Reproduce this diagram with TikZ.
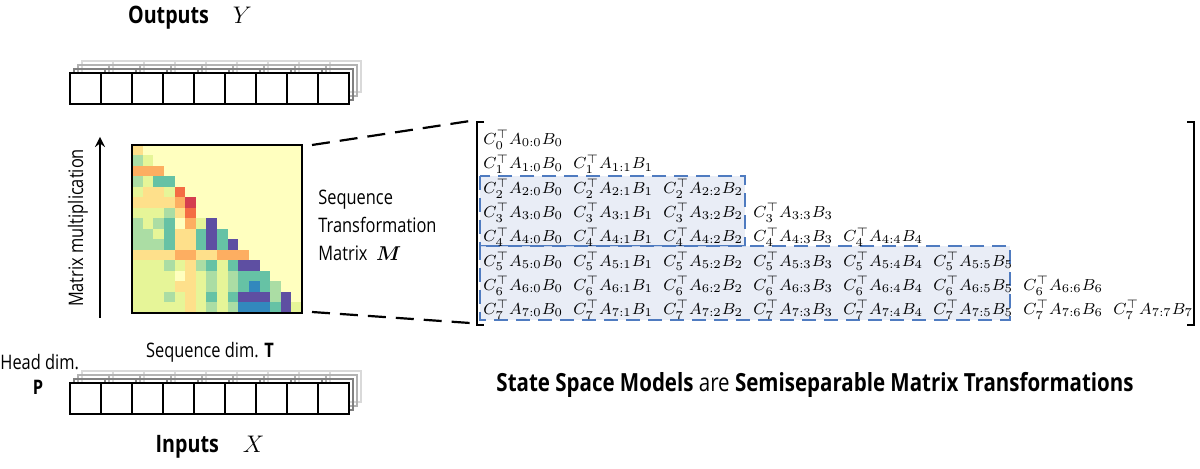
\documentclass[tikz,border=0pt]{standalone}
\usepackage{amsmath}
\usepackage{fontspec}
\setmainfont{Open Sans}[FakeStretch=0.82]
\definecolor{hm0}{HTML}{FFFFBF}
\definecolor{hm1}{HTML}{E6F598}
\definecolor{hm2}{HTML}{ABDDA4}
\definecolor{hm3}{HTML}{66C2A5}
\definecolor{hm4}{HTML}{3288BD}
\definecolor{hm5}{HTML}{5E4FA2}
\definecolor{hm6}{HTML}{FEE08B}
\definecolor{hm7}{HTML}{FDAE61}
\definecolor{hm8}{HTML}{F46D43}
\definecolor{hm9}{HTML}{D53E4F}
\definecolor{blkfill}{HTML}{E3E8F4}
\definecolor{blkline}{HTML}{4F7BC0}
\tikzset{
  cell/.style={draw=black, line width=1.2pt},
  lbl/.style={font=\fontsize{10}{12}\selectfont, inner sep=0pt},
  entry/.style={anchor=west, inner sep=0pt, font=\fontsize{8.1}{10}\selectfont},
  blk/.style={fill=blkfill, fill opacity=0.8, draw=blkline, line width=1.1pt, dash pattern=on 7pt off 4pt},
}
\begin{document}
\begin{tikzpicture}[x=0.5pt, y=-0.5pt, >=stealth]
    \useasboundingbox (0,0) rectangle (1200,469);
    % token strips
    \foreach \ytop in {73,383} {
      \foreach \k/\shade in {3/15,2/30,1/50} {
        \foreach \c in {0,...,8}
          \draw[draw=black!\shade, line width=0.8pt] ({70+31*\c+4*\k},{\ytop-4*\k}) rectangle ++(31,31);
      }
      \foreach \c in {0,...,8}
        \filldraw[cell, fill=white] ({70+31*\c},\ytop) rectangle ++(31,31);
    }
    \node[lbl, font=\fontsize{12}{14}\selectfont\bfseries] (outlbl) at (190,18) {Outputs\quad$Y$};
    \node[lbl, font=\fontsize{12}{14}\selectfont\bfseries] (inlbl) at (210,447) {Inputs\quad$X$};
    \node[lbl] (seqdim) at (210,352) {Sequence dim. \textbf{T}};
    \node[lbl, anchor=west] (headdim) at (0,362) {Head dim.};
    \node[lbl] (headp) at (38,387) {\textbf{P}};
    % heatmap
    \fill[hm0] (132,145) rectangle (302,313);
    \foreach \row [count=\i from 0] in {{6},{2,1},{7,7,7},{2,1,3,3},{1,6,6,1,8},{6,6,6,6,7,9},
        {1,1,1,2,6,8,0},{2,1,2,3,0,7,1,5},{2,2,1,3,6,6,3,5,3},{2,2,2,3,6,6,3,5,3,5},
        {6,6,6,6,7,7,6,6,7,7,7},{1,1,1,2,1,6,2,3,1,3,5,5},{1,1,1,1,0,6,1,2,1,2,3,3,3},
        {1,1,1,1,6,6,1,2,1,2,3,4,3,2},{1,1,1,2,1,6,1,3,1,3,5,5,5,2,5},{1,1,1,1,1,6,1,2,1,2,4,4,4,3,5,1}} {
      \foreach \v [count=\j from 0] in \row
        \fill[hm\v] ({132+10.625*\j},{145+10.5*\i}) rectangle ++(10.7,10.6);
    }
    \draw[line width=0.9pt] (132,145) rectangle (302,313);
    \coordinate (hmtop) at (312,145);
    \coordinate (hmbot) at (312,312);
    \node[lbl, anchor=north west, align=left] (mlbl) at (318,190) {Sequence\\[2pt]Transformation\\[2pt]Matrix\ \ $\boldsymbol{M}$};
    \coordinate (arrbot) at (100,318);
    \coordinate (arrtop) at (100,137);
    \draw[->, line width=1.2pt] (arrbot) -- (arrtop);
    \node[lbl, rotate=90] (mm) at (78,228) {Matrix multiplication};
    % expanded matrix
    \coordinate (brtl) at (477,122);
    \coordinate (brbl) at (477,325);
    \draw[dash pattern=on 9pt off 5pt, line width=1.1pt] (hmtop) -- (470,121);
    \draw[dash pattern=on 9pt off 5pt, line width=1.1pt] (hmbot) -- (470,323);
    \draw[blk] (480,176) rectangle (745,246);
    \draw[blk] (480,246) rectangle (1010,320);
    \foreach \i in {0,...,7} {
      \foreach \j in {0,...,\i}
        \node[entry] (m-\i-\j) at ({483+90*\j},{140+24.3*\i}) {$C_{\i}^{\top}A_{\i:\j}B_{\j}$};
    }
    \draw[line width=0.7pt] (484,122) -- (brtl) -- (brbl) -- (484,325);
    \draw[line width=0.7pt] (1187,122) -- (1194,122) -- (1194,325) -- (1187,325);
    \node[lbl, font=\fontsize{12.5}{14}\selectfont] (title) at (815,385) {\textbf{State Space Models} are \textbf{Semiseparable Matrix Transformations}};
\end{tikzpicture}
\end{document}
